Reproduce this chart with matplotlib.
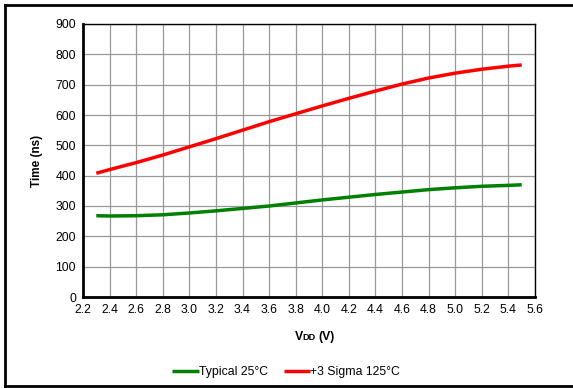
import matplotlib
matplotlib.use("Agg")
import matplotlib.pyplot as plt
from matplotlib.lines import Line2D

vdd = [2.3, 2.4, 2.6, 2.8, 3.0, 3.2, 3.4, 3.6, 3.8, 4.0, 4.2, 4.4, 4.6, 4.8, 5.0, 5.2, 5.4, 5.5]
typical_25c = [268, 267, 268, 271, 277, 284, 292, 300, 310, 320, 329, 338, 346, 354, 360, 365, 368, 370]
sigma3_125c = [408, 420, 443, 468, 495, 522, 550, 578, 604, 630, 655, 679, 702, 722, 738, 751, 761, 765]

xticks = [2.2, 2.4, 2.6, 2.8, 3.0, 3.2, 3.4, 3.6, 3.8, 4.0, 4.2, 4.4, 4.6, 4.8, 5.0, 5.2, 5.4, 5.6]
yticks = [0, 100, 200, 300, 400, 500, 600, 700, 800, 900]

plt.rcParams['font.family'] = ['Liberation Sans', 'DejaVu Sans']

fig = plt.figure(figsize=(5.73, 3.88), dpi=100)
W, H = 573, 388
ax = fig.add_axes([83 / W, 1 - 297 / H, (535 - 83) / W, (297 - 24) / H])

ax.plot(vdd, typical_25c, color='#008000', lw=2.5, label='Typical 25°C', solid_capstyle='butt')
ax.plot(vdd, sigma3_125c, color='#ff0000', lw=2.5, label='+3 Sigma 125°C', solid_capstyle='butt')

ax.set_xlim(2.2, 5.6)
ax.set_ylim(0, 900)
ax.set_xticks(xticks)
ax.set_xticklabels([f"{t:.1f}" for t in xticks])
ax.set_yticks(yticks)
ax.tick_params(length=0, labelsize=8.8, pad=5)
ax.grid(True, color='#999999', lw=0.9)
ax.set_axisbelow(True)
for s in ['left', 'bottom']:
    ax.spines[s].set_linewidth(2)
for s in ['top', 'right']:
    ax.spines[s].set_linewidth(1)

ax.set_ylabel('Time (ns)', fontsize=8.5, fontweight='bold', labelpad=9)
fig.text(295 / W, 1 - 337 / H, 'V', fontsize=8.8, fontweight='bold', ha='left', va='center')
fig.text(302.5 / W, 1 - 337.5 / H, 'DD', fontsize=6.6, fontweight='bold', ha='left', va='center')
fig.text(318 / W, 1 - 337 / H, '(V)', fontsize=8.8, fontweight='bold', ha='left', va='center')

leg = fig.legend(loc='center', bbox_to_anchor=(286 / W, 1 - 372 / H), ncol=2, frameon=False,
                 fontsize=8.8, handlelength=2.2, handletextpad=0.0, columnspacing=1.3)

for xs, ys in [((5 / W, 1.0), (1 - 5 / H, 1 - 5 / H)),
               ((5 / W, 5 / W), (1 - 5 / H, 1 - 386 / H)),
               ((5 / W, 1.0), (1 - 386 / H, 1 - 386 / H))]:
    fig.add_artist(Line2D(xs, ys, transform=fig.transFigure, color='black', lw=2))

fig.savefig('out.png', dpi=100)
